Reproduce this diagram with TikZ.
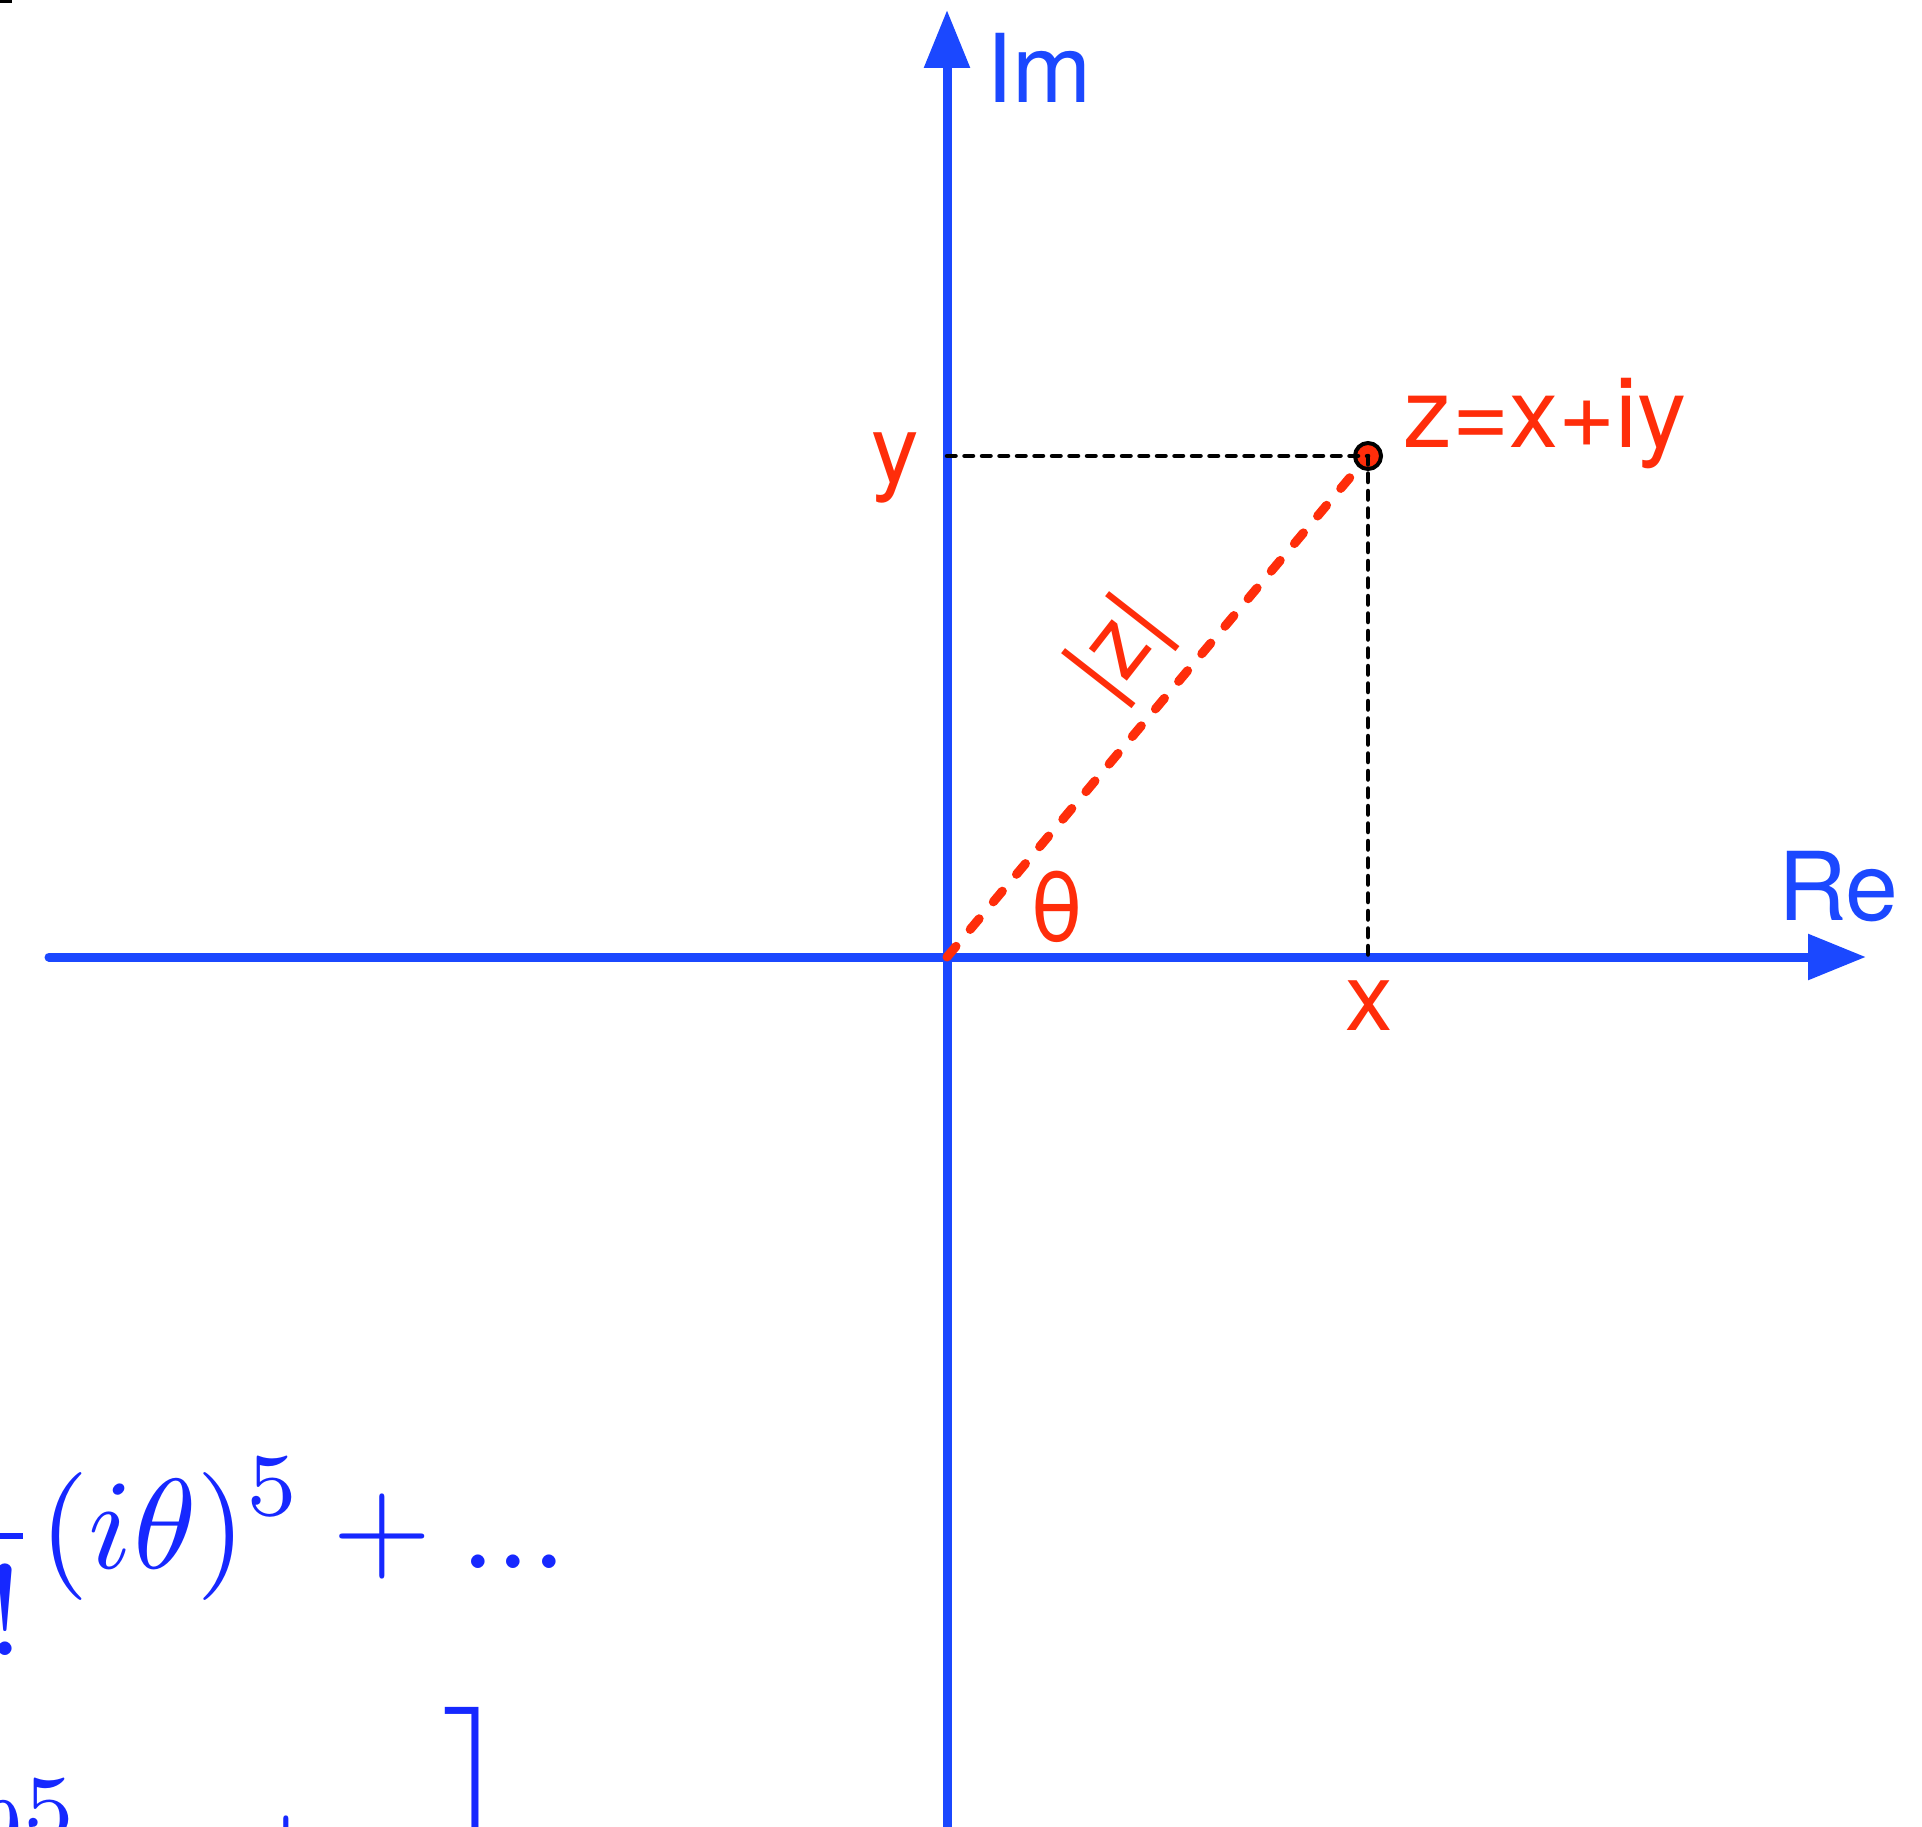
\documentclass[tikz,border=0pt]{standalone}
\usepackage[no-math]{fontspec}
\newfontfamily\heros{TeX Gyre Heros}
\usepackage{graphicx}
\usetikzlibrary{arrows.meta}
\definecolor{axisblue}{RGB}{27,72,255}
\definecolor{mathblue}{RGB}{22,40,255}
\definecolor{zred}{RGB}{255,45,10}
\begin{document}
\begin{tikzpicture}[x=1pt,y=-1pt,
  axis/.style={draw=axisblue, line width=9pt, line cap=round,
    -{Triangle[length=58pt,width=44pt]}},
  guide/.style={draw=black, line width=4.5pt, line cap=round,
    dash pattern=on 8.5pt off 9pt},
  modline/.style={draw=zred, line width=9pt, line cap=round,
    dash pattern=on 14pt off 22pt},
  lbl/.style={inner sep=0pt, font={\heros\fontsize{95}{110}\selectfont}},
  mathlbl/.style={inner sep=0pt, text=mathblue},
  pointdot/.style={circle, draw=black, fill=zred, line width=4pt,
    minimum size=26pt, inner sep=0pt}
]
\path[use as bounding box] (0,0) rectangle (1922,1827);
\clip (0,0) rectangle (1922,1827);

% coordinates
\coordinate (O) at (947,957);
\coordinate (Z) at (1368,456);
\coordinate (Ytick) at (947,456);
\coordinate (Xtick) at (1368,957);
\coordinate (ReL) at (49,957);
\coordinate (ReR) at (1866,957);
\coordinate (ImB) at (947,1845);
\coordinate (ImT) at (947,10);

% small mark
\fill[black] (0,0) rectangle (12,3);

% axes
\draw[axis] (ReL) -- (ReR);
\draw[axis] (ImB) -- (ImT);

% modulus line
\draw[modline] (O) -- (Z);

% point
\node[pointdot] (pt) at (Z) {};

% guide lines
\draw[guide] (Ytick) -- (pt.center);
\draw[guide] (pt.center) -- (Xtick);

% labels
\node[lbl, text=axisblue, anchor=base west] (im) at (986,103) {Im};
\node[lbl, text=axisblue, anchor=base west] (re) at (1778,920) {Re};
\node[lbl, text=zred, anchor=base] (ylbl) at (895,482) {y};
\node[lbl, text=zred, anchor=base] (xlbl) at (1369,1030) {x};
\node[lbl, text=zred, anchor=base] (thlbl) at (1057,941) {θ};
\node[lbl, text=zred, anchor=base west, font={\heros\fontsize{98}{112}\selectfont}]
  (zlbl) at (1403,447) {z=x+iy};
\node[lbl, text=zred, rotate=52] (modz) at (1121,650) {|z|};

% formula fragments
\node[mathlbl, anchor=base east] (fracA) at (39,1568)
  {\scalebox{12.8}{$\displaystyle\frac{1}{5!}$}};
\node[mathlbl, anchor=base west] (rowA) at (39,1568)
  {\scalebox{12.8}{$\displaystyle(i\theta)^5+...$}};
\node[mathlbl, anchor=base west] (thetaB) at (-40,1890)
  {\scalebox{12.8}{$\displaystyle\theta^5$}};
\node[mathlbl, anchor=base] (plusB) at (286,1890)
  {\scalebox{12.8}{$+$}};
\node[mathlbl, anchor=north east] (brB) at (511,1707)
  {\scalebox{12.8}{$\biggr]$}};
\end{tikzpicture}
\end{document}
